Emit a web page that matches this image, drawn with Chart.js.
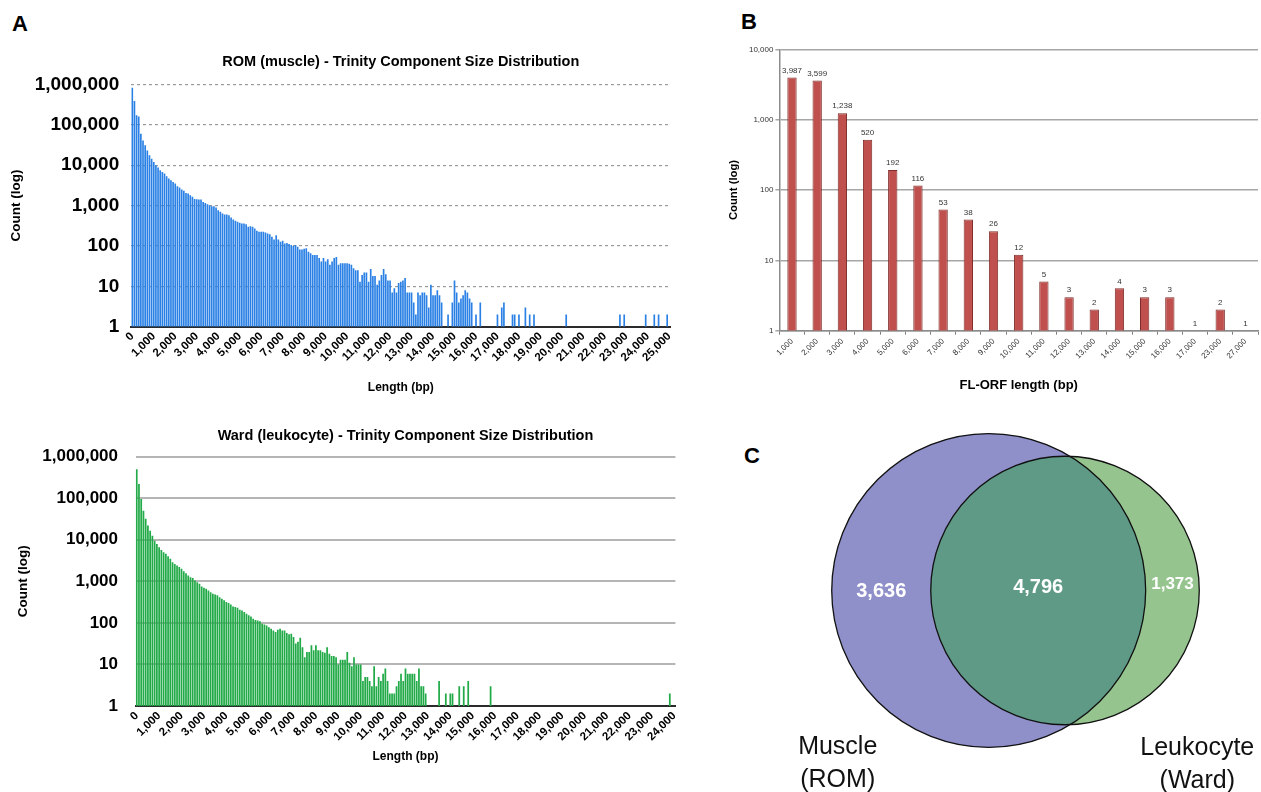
<!DOCTYPE html>
<html>
<head>
<meta charset="utf-8">
<script src="https://cdn.jsdelivr.net/npm/chart.js@4.4.0/dist/chart.umd.min.js"></script>
<style>
  body { margin: 0; background: #fff; width: 1261px; height: 792px; overflow: hidden; position: relative;
         font-family: "Liberation Sans", Arial, Helvetica, sans-serif; }
  canvas { position: absolute; }
  .panel { position: absolute; font-weight: bold; font-size: 22px; color: #000; line-height: 1; }
</style>
</head>
<body>
<div class="panel" style="left:12px;top:13px">A</div>
<div class="panel" style="left:741px;top:11px">B</div>
<div class="panel" style="left:744px;top:445px">C</div>
<canvas id="romChart" width="690" height="365" style="left:0;top:40px"></canvas>
<canvas id="wardChart" width="690" height="377" style="left:0;top:415px"></canvas>
<canvas id="orfChart" width="536" height="370" style="left:725px;top:40px"></canvas>
<canvas id="vennChart" width="516" height="362" style="left:745px;top:430px"></canvas>
<script>
// ---------------- DATA ----------------
// Panel A (top): ROM (muscle), 100 bp bins from 0 to 25,000
const romTitle = 'ROM (muscle) - Trinity Component Size Distribution';
const romLengths = Array.from({ length: 251 }, (_, i) => i * 100);
const romTickLabels = ['0','1,000','2,000','3,000','4,000','5,000','6,000','7,000','8,000','9,000','10,000',
  '11,000','12,000','13,000','14,000','15,000','16,000','17,000','18,000','19,000','20,000',
  '21,000','22,000','23,000','24,000','25,000'];
const romCounts = [
  828000,387000,171000,160000,60000,41000,31000,23000,17600,14500,
  12000,10000,8700,7500,6800,6200,5300,4660,4240,3850,
  3500,3000,2790,2490,2310,2060,1980,1800,1640,1460,
  1440,1410,1410,1230,1160,1080,1020,964,964,893,
  767,698,635,600,600,577,505,451,418,395,
  373,359,359,346,297,309,297,271,237,224,
  224,224,215,203,196,168,145,185,145,127,
  134,115,119,111,105,99,105,95,82,82,
  85,88,72,66,60,60,60,50,41,50,
  41,47,34,41,50,53,34,37,37,37,
  37,36,34,28,25,25,13,19,22,22,
  13,27,18,18,11,14,19,27,20,14,
  14,7,9,7,12,13,14,16,7,7,
  7,4,2,7,6,7,7,6,3,11,
  6,6,8,6,4,null,null,2,null,4,
  14,7,4,5,6,8,7,5,4,null,
  2,null,4,null,null,null,null,null,null,null,
  2,null,3,4,null,null,null,2,2,null,
  2,null,null,3,null,2,null,2,null,null,
  null,null,null,null,null,null,null,null,null,null,
  null,null,2,null,null,null,null,null,null,null,
  null,null,null,null,null,null,null,null,null,null,
  null,null,null,null,null,null,null,2,null,2,
  null,null,null,null,null,null,null,null,null,2,
  null,null,null,2,null,2,null,null,null,2,
  null
];

// Panel A (bottom): Ward (leukocyte), 100 bp bins from 0 to 24,000
const wardTitle = 'Ward (leukocyte) - Trinity Component Size Distribution';
const wardLengths = Array.from({ length: 241 }, (_, i) => i * 100);
const wardTickLabels = ['0','1,000','2,000','3,000','4,000','5,000','6,000','7,000','8,000','9,000','10,000',
  '11,000','12,000','13,000','14,000','15,000','16,000','17,000','18,000','19,000','20,000',
  '21,000','22,000','23,000','24,000'];
const wardCounts = [
  500000,220000,96000,50000,32000,22000,16600,12600,9500,7900,
  6600,5700,5000,4600,4000,3500,2900,2600,2400,2200,
  2000,1750,1570,1380,1260,1210,1050,950,870,750,
  700,660,600,550,500,480,460,415,380,350,
  318,300,278,247,240,230,206,200,183,167,
  152,143,126,118,115,110,95,92,87,79,
  72,66,60,68,72,66,66,57,53,55,
  46,32,35,44,26,15,20,20,29,22,
  29,22,22,20,19,26,18,16,16,15,
  10,13,13,13,20,11,9,15,10,10,
  10,4,5,5,4,3,9,3,5,4,
  6,8,4,2,2,2,3,4,6,4,
  8,6,6,6,6,4,8,3,3,2,
  null,null,null,null,null,4,null,null,2,null,
  2,2,null,null,3,null,3,null,4,null,
  null,null,null,null,null,null,null,null,3,null,
  null,null,null,null,null,null,null,null,null,null,
  null,null,null,null,null,null,null,null,null,null,
  null,null,null,null,null,null,null,null,null,null,
  null,null,null,null,null,null,null,null,null,null,
  null,null,null,null,null,null,null,null,null,null,
  null,null,null,null,null,null,null,null,null,null,
  null,null,null,null,null,null,null,null,null,null,
  null,null,null,null,null,null,null,null,2,null,
  null
];
const logTicksA = [1, 10, 100, 1000, 10000, 100000, 1000000];

// Panel B: FL-ORF length distribution
const orfLabels = ['1,000','2,000','3,000','4,000','5,000','6,000','7,000','8,000','9,000','10,000',
  '11,000','12,000','13,000','14,000','15,000','16,000','17,000','23,000','27,000'];
const orfCounts = [3987, 3599, 1238, 520, 192, 116, 53, 38, 26, 12, 5, 3, 2, 4, 3, 3, 1, 2, 1];
const logTicksB = [1, 10, 100, 1000, 10000];

// Panel C: Venn diagram
const vennSetLabels = [['Muscle', '(ROM)'], ['Leukocyte', '(Ward)']];
const vennOnlyA = 3636;
const vennBoth = 4796;
const vennOnlyB = 1373;

// ---------------- HELPERS ----------------
Chart.defaults.font.family = '"Liberation Sans", Arial, Helvetica, sans-serif';
Chart.defaults.color = '#000';
Chart.defaults.animation = false;
Chart.defaults.plugins.legend.display = false;
Chart.defaults.plugins.tooltip.enabled = false;

const fmt = v => Number(v).toLocaleString('en-US');

function histogramChart(id, lengths, counts, tickLabels, title, opt) {
  return new Chart(document.getElementById(id), {
    type: 'bar',
    data: {
      labels: lengths,
      datasets: [{
        data: counts,
        backgroundColor: opt.barColor,
        barPercentage: 0.78,
        categoryPercentage: 1
      }]
    },
    options: {
      responsive: false,
      layout: { padding: { left: 0, right: opt.padRight, top: 0, bottom: 0 } },
      plugins: {
        title: {
          display: true, text: title, color: '#000', fullSize: false,
          font: { size: 14.5, weight: 'bold' },
          padding: { top: opt.titleTop, bottom: opt.titleBottom }
        }
      },
      scales: {
        x: {
          grid: { display: false, drawTicks: false },
          border: { display: true, color: '#2b2b2b', width: 2 },
          ticks: {
            autoSkip: false, minRotation: 45, maxRotation: 45, padding: 3,
            color: '#000', font: { size: 11.5, weight: 'bold' },
            callback: (v, i) => (lengths[i] % 1000 === 0 ? tickLabels[lengths[i] / 1000] : null)
          },
          title: {
            display: true, text: 'Length (bp)', color: '#000',
            font: { size: 12, weight: 'bold' }, padding: { top: 0, bottom: opt.xTitlePad }
          },
          afterFit: s => { s.height = opt.xHeight; }
        },
        y: {
          type: 'logarithmic', min: 1, max: 1000000,
          afterBuildTicks: s => { s.ticks = logTicksA.map(v => ({ value: v })); },
          grid: {
            drawTicks: false, lineWidth: opt.gridWidth,
            color: c => (c.tick && c.tick.value === 1 ? 'rgba(0,0,0,0)' : opt.gridColor)
          },
          border: { display: false, dash: opt.gridDash },
          ticks: {
            padding: opt.yTickPad, color: '#000',
            font: { size: opt.yTickSize, weight: 'bold' },
            callback: v => fmt(v)
          },
          title: {
            display: true, text: 'Count (log)', color: '#000',
            font: { size: 13.5, weight: 'bold' }, padding: { top: opt.yTitlePad, bottom: 0 }
          },
          afterFit: s => { s.width = opt.yWidth; }
        }
      }
    }
  });
}

// ---------------- PANEL A ----------------
histogramChart('romChart', romLengths, romCounts, romTickLabels, romTitle, {
  barColor: '#2a80e4', padRight: 19.6, titleTop: 13, titleBottom: 14,
  xHeight: 78.3, xTitlePad: 9.8, yWidth: 131.2, yTickPad: 12, yTickSize: 19, yTitlePad: 8.4,
  gridColor: '#9a9a9a', gridWidth: 1.2, gridDash: [3, 3]
});
histogramChart('wardChart', wardLengths, wardCounts, wardTickLabels, wardTitle, {
  barColor: '#22aa48', padRight: 14.6, titleTop: 12, titleBottom: 12.3,
  xHeight: 86, xTitlePad: 27.8, yWidth: 135.6, yTickPad: 17.6, yTickSize: 17, yTitlePad: 14.9,
  gridColor: '#b5b5b5', gridWidth: 2, gridDash: []
});

// ---------------- PANEL B ----------------
const orfValueLabels = {
  id: 'orfValueLabels',
  afterDatasetsDraw(chart) {
    const { ctx } = chart;
    const meta = chart.getDatasetMeta(0);
    const data = chart.data.datasets[0].data;
    ctx.save();
    ctx.font = '8px "Liberation Sans", Arial, sans-serif';
    ctx.fillStyle = '#333';
    ctx.textAlign = 'center';
    ctx.textBaseline = 'bottom';
    meta.data.forEach((bar, i) => ctx.fillText(fmt(data[i]), bar.x, bar.y - 3));
    ctx.restore();
  }
};
new Chart(document.getElementById('orfChart'), {
  type: 'bar',
  data: {
    labels: orfLabels,
    datasets: [{
      data: orfCounts,
      backgroundColor: '#c0504d', borderColor: '#7d2c2a', borderWidth: 1,
      barPercentage: 0.37, categoryPercentage: 1
    }]
  },
  plugins: [orfValueLabels],
  options: {
    responsive: false,
    layout: { padding: { left: 0, right: 3, top: 9.3, bottom: 0 } },
    scales: {
      x: {
        grid: { display: true, drawOnChartArea: false, drawTicks: true, tickLength: 4, color: '#7f7f7f', offset: true },
        border: { display: true, color: '#8c8c8c', width: 1.5 },
        ticks: { autoSkip: false, minRotation: 45, maxRotation: 45, padding: 2, color: '#333', font: { size: 8 } },
        title: { display: true, text: 'FL-ORF length (bp)', color: '#000', font: { size: 13, weight: 'bold' }, padding: { top: 0, bottom: 17.2 } },
        afterFit: s => { s.height = 79.3; }
      },
      y: {
        type: 'logarithmic', min: 1, max: 10000,
        afterBuildTicks: s => { s.ticks = logTicksB.map(v => ({ value: v })); },
        grid: { color: '#a6a6a6', lineWidth: 1.5, drawTicks: true, tickLength: 4 },
        border: { display: true, color: '#8c8c8c', width: 1.5 },
        ticks: { padding: 2, color: '#333', font: { size: 8 }, callback: v => fmt(v) },
        title: { display: true, text: 'Count (log)', color: '#000', font: { size: 11.3, weight: 'bold' }, padding: { top: 2.2, bottom: 0 } },
        afterFit: s => { s.width = 54.4; }
      }
    }
  }
});

// ---------------- PANEL C ----------------
function lensArea(r1, r2, d) {
  if (d >= r1 + r2) return 0;
  if (d <= Math.abs(r1 - r2)) return Math.PI * Math.min(r1, r2) ** 2;
  const a = r1 * r1 * Math.acos((d * d + r1 * r1 - r2 * r2) / (2 * d * r1));
  const b = r2 * r2 * Math.acos((d * d + r2 * r2 - r1 * r1) / (2 * d * r2));
  const c = 0.5 * Math.sqrt((-d + r1 + r2) * (d + r1 - r2) * (d - r1 + r2) * (d + r1 + r2));
  return a + b - c;
}
const rA = Math.sqrt((vennOnlyA + vennBoth) / Math.PI);
const rB = Math.sqrt((vennOnlyB + vennBoth) / Math.PI);
let lo = Math.abs(rA - rB), hi = rA + rB;
for (let k = 0; k < 80; k++) {
  const mid = (lo + hi) / 2;
  if (lensArea(rA, rB, mid) > vennBoth) lo = mid; else hi = mid;
}
const vennDist = (lo + hi) / 2;

const vennPlugin = {
  id: 'vennPlugin',
  afterDatasetsDraw(chart) {
    const { ctx, scales: { x, y } } = chart;
    const ax = x.getPixelForValue(0), ay = y.getPixelForValue(0);
    const bx = x.getPixelForValue(vennDist), by = y.getPixelForValue(0);
    const pa = x.getPixelForValue(rA) - ax;
    const pb = x.getPixelForValue(rB) - x.getPixelForValue(0);
    const circle = (cx, cy, r) => { ctx.beginPath(); ctx.arc(cx, cy, r, 0, Math.PI * 2); };
    ctx.save();
    circle(ax, ay, pa); ctx.fillStyle = '#8f8fca'; ctx.fill();
    circle(bx, by, pb); ctx.fillStyle = '#96c48f'; ctx.fill();
    ctx.save();
    circle(bx, by, pb); ctx.clip();
    circle(ax, ay, pa); ctx.fillStyle = '#5f9a87'; ctx.fill();
    ctx.restore();
    ctx.lineWidth = 1.3; ctx.strokeStyle = '#111';
    circle(ax, ay, pa); ctx.stroke();
    circle(bx, by, pb); ctx.stroke();

    // region counts
    ctx.fillStyle = '#fff';
    ctx.textAlign = 'center';
    ctx.textBaseline = 'middle';
    ctx.font = 'bold 20px "Liberation Sans", Arial, sans-serif';
    ctx.fillText(fmt(vennOnlyA), (ax - pa + bx - pb) / 2, ay + 1);
    ctx.fillText(fmt(vennBoth), (bx - pb + ax + pa) / 2, ay - 3);
    ctx.font = 'bold 17px "Liberation Sans", Arial, sans-serif';
    ctx.fillText(fmt(vennOnlyB), (ax + pa + bx + pb) / 2, by - 6);

    // set labels
    ctx.fillStyle = '#111';
    ctx.font = '25px "Liberation Sans", Arial, sans-serif';
    vennSetLabels[0].forEach((t, i) => ctx.fillText(t, ax - pa + 6, ay + pa + i * 33));
    vennSetLabels[1].forEach((t, i) => ctx.fillText(t, bx + pb - 2, by + pb + 23 + i * 33));
    ctx.restore();
  }
};
new Chart(document.getElementById('vennChart'), {
  type: 'scatter',
  data: { datasets: [{ data: [{ x: 0, y: 0 }, { x: vennDist, y: 0 }], pointRadius: 0 }] },
  plugins: [vennPlugin],
  options: {
    responsive: false,
    layout: { padding: 0 },
    scales: {
      x: { type: 'linear', display: false, min: -80.43, max: 89.87 },
      y: { type: 'linear', display: false, min: -66.5, max: 52.97 }
    }
  }
});
</script>
</body>
</html>
